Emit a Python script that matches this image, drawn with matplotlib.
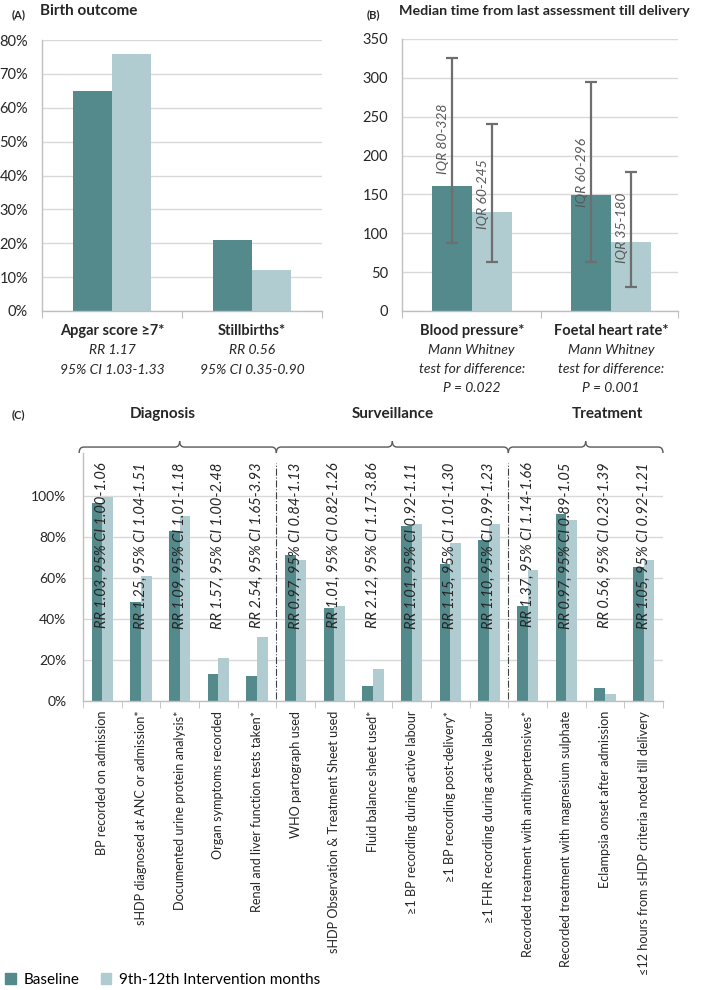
import matplotlib
matplotlib.use('Agg')
import matplotlib.pyplot as plt
import numpy as np
from matplotlib.transforms import blended_transform_factory, offset_copy
from matplotlib.patches import Patch, PathPatch
from matplotlib.path import Path

plt.rcParams['font.family'] = ['Lato', 'DejaVu Sans']

W, H = 709, 990
DARK = '#548a8b'
LIGHT = '#b0ccd1'
GRID = '#d9d9d9'
AXC = '#bfbfbf'
TXT = '#262626'

# (A) birth outcome, percent
birth_cats = ['Apgar score ≥7*', 'Stillbirths*']
birth_rr = ['RR 1.17', 'RR 0.56']
birth_ci = ['95% CI 1.03-1.33', '95% CI 0.35-0.90']
birth_base = [65, 21]
birth_int = [76, 12]

# (B) median minutes from last assessment till delivery
time_cats = ['Blood pressure*', 'Foetal heart rate*']
time_p = ['P = 0.022', 'P = 0.001']
time_base = [161, 149]
time_int = [128, 89]
time_base_lo = [87, 63]
time_base_hi = [325, 295]
time_int_lo = [63, 31]
time_int_hi = [241, 179]
time_base_iqr = ['IQR 80-328', 'IQR 60-296']
time_int_iqr = ['IQR 60-245', 'IQR 35-180']

# (C) process indicators, percent
proc_labels = [
    'BP recorded on admission',
    'sHDP diagnosed at ANC or admission*',
    'Documented urine protein analysis*',
    'Organ symptoms recorded',
    'Renal and liver function tests taken*',
    'WHO partograph used',
    'sHDP Observation & Treatment Sheet used',
    'Fluid balance sheet used*',
    '≥1 BP recording during active labour',
    '≥1 BP recording post-delivery*',
    '≥1 FHR recording during active labour',
    'Recorded treatment with antihypertensives*',
    'Recorded treatment with magnesium sulphate',
    'Eclampsia onset after admission',
    '≤12 hours from sHDP criteria noted till delivery',
]
proc_base = [96.5, 48.5, 83, 13, 12, 71, 45.5, 7.5, 85.5, 67, 78.5, 46.5, 91, 6.2, 65.5]
proc_int = [99.5, 61, 90.5, 21, 31, 69, 46.5, 15.7, 86.5, 77, 86.5, 64, 88.5, 3.4, 69]
proc_rr = [
    'RR 1.03, 95% CI 1.00-1.06',
    'RR 1.25, 95% CI 1.04-1.51',
    'RR 1.09, 95% CI 1.01-1.18',
    'RR 1.57, 95% CI 1.00-2.48',
    'RR 2.54, 95% CI 1.65-3.93',
    'RR 0.97, 95% CI 0.84-1.13',
    'RR 1.01, 95% CI 0.82-1.26',
    'RR 2.12, 95% CI 1.17-3.86',
    'RR 1.01, 95% CI 0.92-1.11',
    'RR 1.15, 95% CI 1.01-1.30',
    'RR 1.10, 95% CI 0.99-1.23',
    'RR 1.37, 95% CI 1.14-1.66',
    'RR 0.97, 95% CI 0.89-1.05',
    'RR 0.56, 95% CI 0.23-1.39',
    'RR 1.05, 95% CI 0.92-1.21',
]
group_names = ['Diagnosis', 'Surveillance', 'Treatment']
group_sizes = [5, 6, 4]

legend_labels = ['Baseline', '9th-12th Intervention months']


def px_axes(left, top, right, bottom):
    return fig.add_axes([left / W, 1 - bottom / H, (right - left) / W, (bottom - top) / H])


def style_axes(ax):
    for s in ['top', 'right']:
        ax.spines[s].set_visible(False)
    for s in ['left', 'bottom']:
        ax.spines[s].set_color(AXC)
        ax.spines[s].set_linewidth(1)
    ax.yaxis.grid(True, color=GRID, linewidth=1)
    ax.set_axisbelow(True)
    ax.tick_params(axis='y', length=0, colors=TXT)
    ax.tick_params(axis='x', which='both', colors=AXC)


fig = plt.figure(figsize=(W / 100, H / 100), dpi=100)

# ---------- (A) ----------
ax_a = px_axes(42, 40, 322, 311)
xa = np.arange(len(birth_cats))
bw = 0.28
ax_a.bar(xa - bw / 2, birth_base, bw, color=DARK)
ax_a.bar(xa + bw / 2, birth_int, bw, color=LIGHT)
ax_a.set_xlim(-0.5, 1.5)
ax_a.set_ylim(0, 80)
ax_a.set_yticks(range(0, 81, 10))
ax_a.set_yticklabels([f'{v}%' for v in range(0, 81, 10)], fontsize=10.5)
ax_a.tick_params(axis='y', pad=10)
ax_a.set_xticks([-0.5, 0.5, 1.5])
ax_a.set_xticklabels([])
ax_a.tick_params(axis='x', length=5)
style_axes(ax_a)
tr = blended_transform_factory(ax_a.transData, fig.transFigure)
for i in range(len(birth_cats)):
    ax_a.text(i, 1 - 331 / H, birth_cats[i], transform=tr, ha='center', va='center',
              fontsize=10.5, fontweight='bold', color=TXT)
    ax_a.text(i, 1 - 350 / H, birth_rr[i], transform=tr, ha='center', va='center',
              fontsize=10, style='italic', color=TXT)
    ax_a.text(i, 1 - 370 / H, birth_ci[i], transform=tr, ha='center', va='center',
              fontsize=10, style='italic', color=TXT)
fig.text(12 / W, 1 - 15 / H, '(A)', fontsize=8, fontweight='bold', va='center', color=TXT)
fig.text(40 / W, 1 - 11 / H, 'Birth outcome', fontsize=11, fontweight='bold', va='center', color=TXT)

# ---------- (B) ----------
ax_b = px_axes(402, 39, 678, 311)
xb = np.arange(len(time_cats))
bwb = 0.287
ax_b.bar(xb - bwb / 2, time_base, bwb, color=DARK)
ax_b.bar(xb + bwb / 2, time_int, bwb, color=LIGHT)
ebc = '#6e6e6e'
ax_b.errorbar(xb - bwb / 2, time_base,
              yerr=[np.subtract(time_base, time_base_lo), np.subtract(time_base_hi, time_base)],
              fmt='none', ecolor=ebc, elinewidth=1.6, capsize=4.3, capthick=1.6)
ax_b.errorbar(xb + bwb / 2, time_int,
              yerr=[np.subtract(time_int, time_int_lo), np.subtract(time_int_hi, time_int)],
              fmt='none', ecolor=ebc, elinewidth=1.6, capsize=4.3, capthick=1.6)
ax_b.set_xlim(-0.5, 1.48)
ax_b.set_ylim(0, 350)
ax_b.set_yticks(range(0, 351, 50))
ax_b.set_yticklabels([str(v) for v in range(0, 351, 50)], fontsize=10.5)
ax_b.tick_params(axis='y', pad=10)
ax_b.set_xticks([-0.5, 0.5, 1.48])
ax_b.set_xticklabels([])
ax_b.tick_params(axis='x', length=5)
style_axes(ax_b)
# IQR text sits just left of each whisker
iqr_tr = offset_copy(ax_b.transData, fig=fig, x=-3, y=0, units='dots')
iqr_y_base = [176, 134]
iqr_y_int = [105, 62]
for i in range(len(time_cats)):
    ax_b.text(xb[i] - bwb / 2, iqr_y_base[i], time_base_iqr[i], transform=iqr_tr, rotation=90,
              ha='right', va='bottom', fontsize=10, style='italic', color='#595959')
    ax_b.text(xb[i] + bwb / 2, iqr_y_int[i], time_int_iqr[i], transform=iqr_tr, rotation=90,
              ha='right', va='bottom', fontsize=10, style='italic', color='#595959')
trb = blended_transform_factory(ax_b.transData, fig.transFigure)
for i in range(len(time_cats)):
    ax_b.text(i, 1 - 331 / H, time_cats[i], transform=trb, ha='center', va='center',
              fontsize=10.5, fontweight='bold', color=TXT)
    ax_b.text(i, 1 - 350 / H, 'Mann Whitney', transform=trb, ha='center', va='center',
              fontsize=10, style='italic', color=TXT)
    ax_b.text(i, 1 - 369 / H, 'test for difference:', transform=trb, ha='center', va='center',
              fontsize=10, style='italic', color=TXT)
    ax_b.text(i, 1 - 388 / H, time_p[i], transform=trb, ha='center', va='center',
              fontsize=10, style='italic', color=TXT)
fig.text(367 / W, 1 - 15 / H, '(B)', fontsize=8, fontweight='bold', va='center', color=TXT)
fig.text(399 / W, 1 - 11 / H, 'Median time from last assessment till delivery', fontsize=10.3,
         fontweight='bold', va='center', color=TXT)

# ---------- (C) ----------
ax_c = px_axes(83, 453, 663, 701)
xc = np.arange(len(proc_labels))
bwc = 0.28
ax_c.bar(xc - bwc / 2, proc_base, bwc, color=DARK)
ax_c.bar(xc + bwc / 2, proc_int, bwc, color=LIGHT)
ax_c.set_xlim(-0.5, len(proc_labels) - 0.5)
ax_c.set_ylim(0, 121)
ax_c.set_yticks(range(0, 101, 20))
ax_c.set_yticklabels([f'{v}%' for v in range(0, 101, 20)], fontsize=10)
ax_c.tick_params(axis='y', pad=12)
ax_c.set_xticks(xc)
ax_c.set_xticklabels(proc_labels, rotation=90, ha='center', va='top', fontsize=9.1, color=TXT)
ax_c.tick_params(axis='x', which='major', length=0, pad=7)
ax_c.set_xticks(np.arange(-0.5, len(proc_labels), 1), minor=True)
ax_c.tick_params(axis='x', which='minor', length=5)
style_axes(ax_c)
ax_c.tick_params(axis='x', which='major', labelcolor=TXT)

for i, lab in enumerate(proc_rr):
    ax_c.text(i, 116.5, lab, rotation=90, ha='center', va='top', fontsize=10.5,
              style='italic', color=TXT)

# group separators and braces
bounds = np.cumsum([0] + group_sizes) - 0.5
for b in bounds[1:-1]:
    ax_c.plot([b, b], [1, 116], color='#404040', lw=0.8, ls='-.', zorder=1)

trc = blended_transform_factory(ax_c.transData, ax_c.transAxes)
d = 0.12
y0, y1, y2 = 1.0, 1.024, 1.048
for g in range(len(group_sizes)):
    xl = bounds[g] if g > 0 else -0.6
    xr = bounds[g + 1]
    xm = (bounds[g] + bounds[g + 1]) / 2
    left_half = [(xl, y0), (xl, y1), (xl + d, y1), (xm - d, y1), (xm, y1), (xm, y2)]
    right_half = [(xm, y2), (xm, y1), (xm + d, y1), (xr - d, y1), (xr, y1), (xr, y0)]
    codes = [Path.MOVETO, Path.CURVE3, Path.CURVE3, Path.LINETO, Path.CURVE3, Path.CURVE3]
    for verts in (left_half, right_half):
        ax_c.add_patch(PathPatch(Path(verts, codes), transform=trc, fill=False,
                                 edgecolor='#595959', lw=1, clip_on=False))

group_title_x = [163, 393, 607]
for name, gx in zip(group_names, group_title_x):
    fig.text(gx / W, 1 - 414 / H, name, ha='center', va='center', fontsize=11,
             fontweight='bold', color=TXT)
fig.text(12 / W, 1 - 415 / H, '(C)', fontsize=8, fontweight='bold', va='center', color=TXT)

handles = [Patch(color=DARK), Patch(color=LIGHT)]
fig.legend(handles, legend_labels, loc='center left', bbox_to_anchor=(5 / W, 1 - 980 / H),
           ncol=2, frameon=False, fontsize=11, handlelength=0.7, handleheight=0.7,
           handletextpad=0.5, columnspacing=1.4, borderpad=0, borderaxespad=0)

fig.savefig('out.png', dpi=100)
